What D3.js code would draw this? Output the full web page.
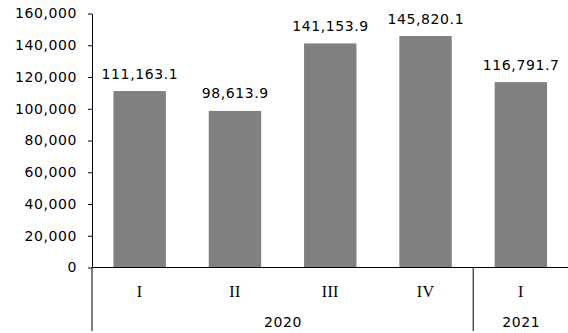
<!DOCTYPE html>
<html>
<head>
<meta charset="utf-8">
<script src="https://cdn.jsdelivr.net/npm/d3@7"></script>
<style>
  html, body { margin: 0; padding: 0; background: #fff; }
  svg { display: block; }
  .num { font-family: "DejaVu Sans", Verdana, sans-serif; font-size: 14px; letter-spacing: 0.6px; fill: #000; }
  .roman { font-family: "Liberation Serif", "Times New Roman", serif; font-size: 16px; letter-spacing: 0.3px; fill: #000; }
</style>
</head>
<body>
<svg id="chart" width="568" height="333"></svg>
<script>
// Quarterly values, 2020 Q1 – 2021 Q1
const quarters = ["I", "II", "III", "IV", "I"];
const years = ["2020", "2020", "2020", "2020", "2021"];
const values = [111163.1, 98613.9, 141153.9, 145820.1, 116791.7];
const yTicks = [0, 20000, 40000, 60000, 80000, 100000, 120000, 140000, 160000];

const svg = d3.select("#chart");
const plotLeft = 92, plotRight = 568.5, plotTop = 13.5, plotBottom = 267.5;

const x = d3.scaleBand()
  .domain(d3.range(values.length))
  .range([plotLeft, plotRight])
  .paddingInner(0.45)
  .paddingOuter(0.225);

const y = d3.scaleLinear()
  .domain([0, 160000])
  .range([plotBottom, plotTop]);

// bars
svg.append("g")
  .selectAll("rect")
  .data(values)
  .join("rect")
  .attr("x", (d, i) => x(i))
  .attr("y", d => y(d))
  .attr("width", x.bandwidth())
  .attr("height", d => y(0) - y(d))
  .attr("fill", "#808080");

// value labels
const fmtVal = d3.format(",.1f");
svg.append("g")
  .selectAll("text")
  .data(values)
  .join("text")
  .attr("class", "num")
  .attr("x", (d, i) => x(i) + x.bandwidth() / 2 + 0.3)
  .attr("y", d => y(d) - 12.5)
  .attr("text-anchor", "middle")
  .text(d => fmtVal(d));

// y axis
const yAxis = d3.axisLeft(y)
  .tickValues(yTicks)
  .tickFormat(d3.format(","))
  .tickSize(4)
  .tickSizeOuter(0)
  .tickPadding(11);

const gy = svg.append("g")
  .attr("transform", `translate(${plotLeft},0)`)
  .call(yAxis);
gy.attr("font-family", null).attr("font-size", null);
gy.select(".domain").attr("stroke", "#000").attr("stroke-width", 1);
gy.selectAll(".tick line").attr("stroke", "#000");
gy.selectAll(".tick text")
  .attr("class", "num")
  .attr("fill", "#000");

// baseline across the plot
svg.append("line")
  .attr("x1", plotLeft).attr("x2", plotRight)
  .attr("y1", y(0)).attr("y2", y(0))
  .attr("stroke", "#000");

// quarter labels
svg.append("g")
  .selectAll("text")
  .data(quarters)
  .join("text")
  .attr("class", "roman")
  .attr("x", (d, i) => x(i) + x.bandwidth() / 2)
  .attr("y", 297)
  .attr("text-anchor", "middle")
  .text(d => d);

// year groups
const groups = [];
years.forEach((yr, i) => {
  const g = groups.find(g => g.year === yr);
  if (g) g.end = i; else groups.push({ year: yr, start: i, end: i });
});
const step = x.step();
const groupX0 = g => plotLeft + g.start * step;
const groupX1 = g => plotLeft + (g.end + 1) * step;

svg.append("g")
  .selectAll("line")
  .data(groups)
  .join("line")
  .attr("x1", g => groupX0(g)).attr("x2", g => groupX0(g))
  .attr("y1", y(0)).attr("y2", 331)
  .attr("stroke", "#000");

const lastGroup = groups[groups.length - 1];
svg.append("line")
  .attr("x1", groupX1(lastGroup)).attr("x2", groupX1(lastGroup))
  .attr("y1", y(0)).attr("y2", 331)
  .attr("stroke", "#000");

svg.append("g")
  .selectAll("text")
  .data(groups)
  .join("text")
  .attr("class", "num")
  .attr("x", g => (groupX0(g) + groupX1(g)) / 2 + 0.3)
  .attr("y", 327)
  .attr("text-anchor", "middle")
  .text(g => g.year);
</script>
</body>
</html>
